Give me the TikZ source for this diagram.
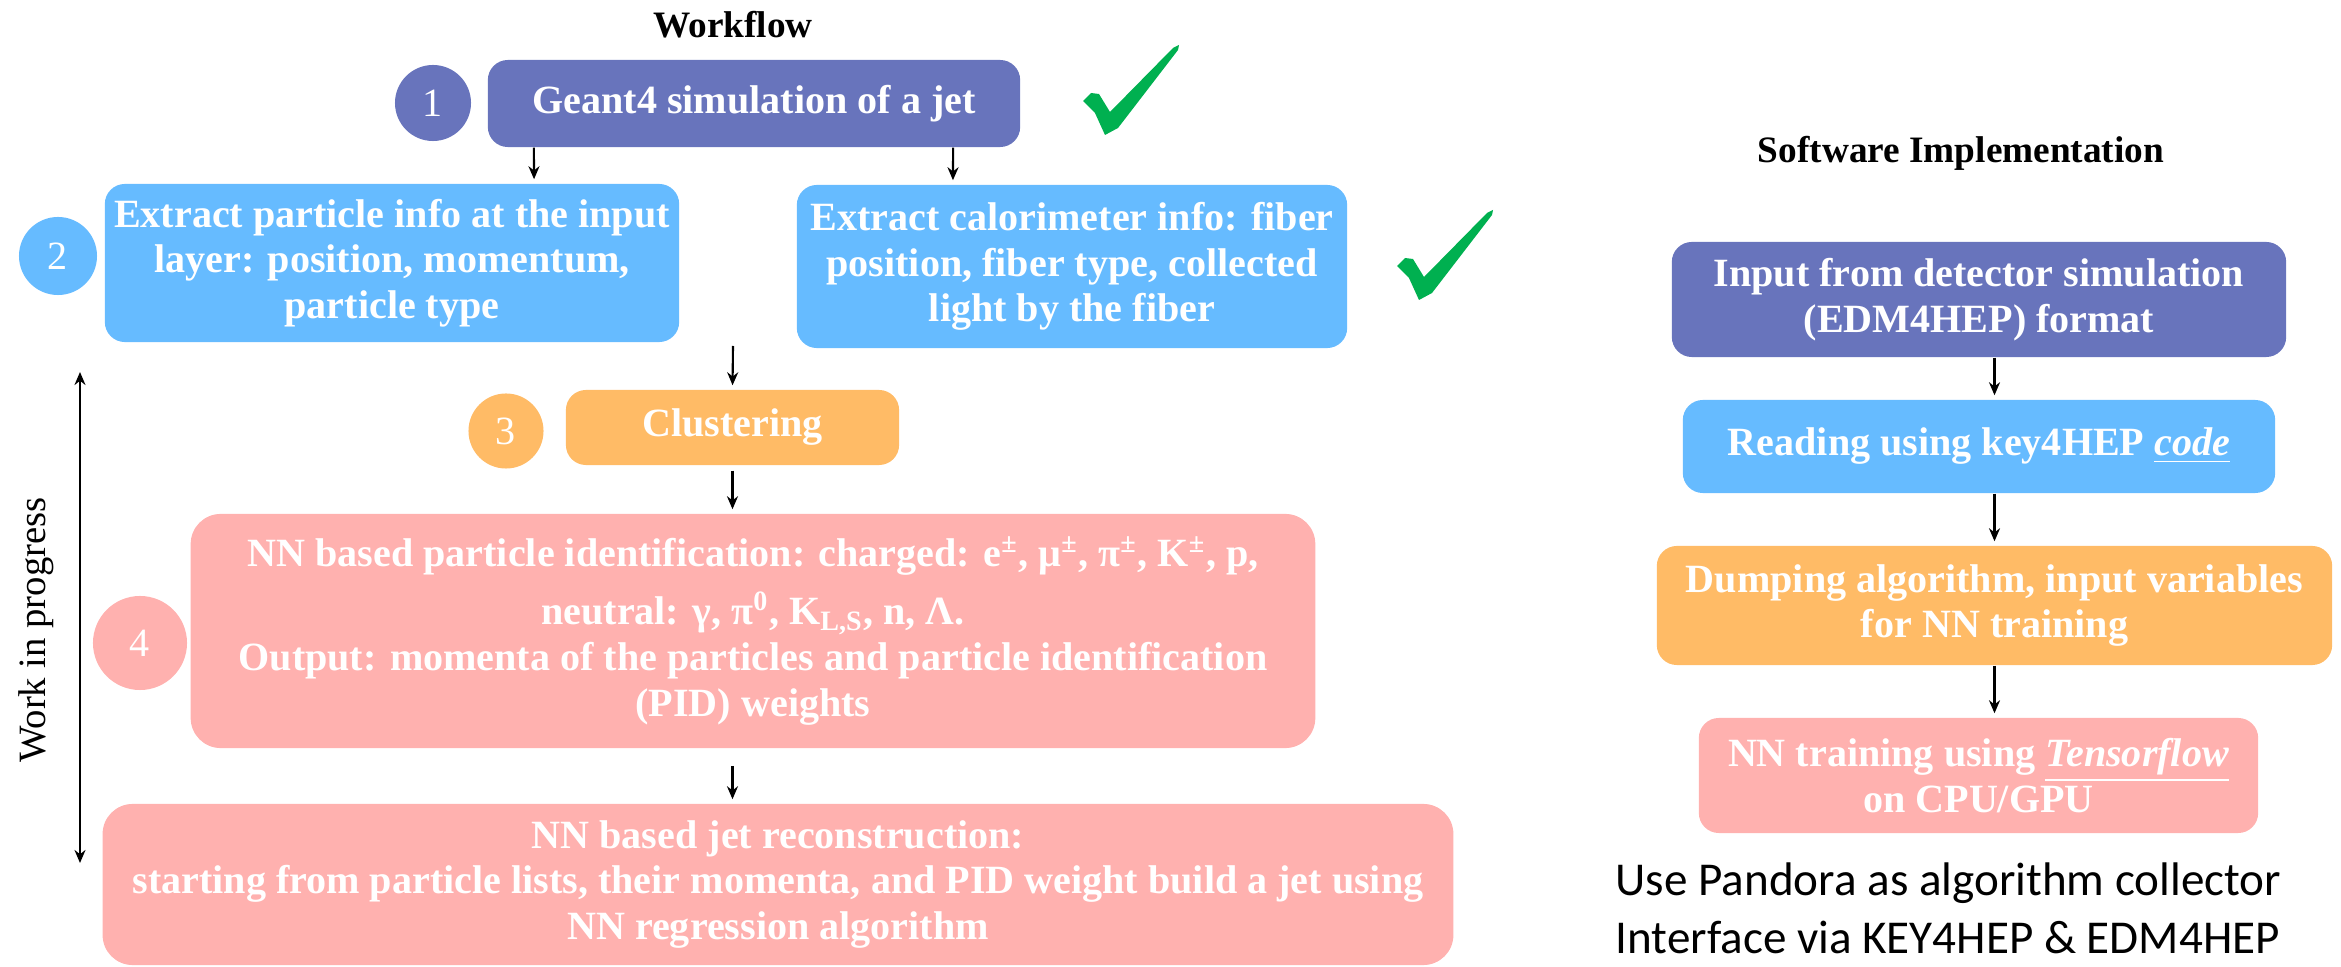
\documentclass[tikz,border=0pt]{standalone}
\usepackage{fontspec}
\setmainfont{Liberation Serif}
\newfontfamily\calibrifont{Carlito}
\usetikzlibrary{arrows.meta, positioning, calc}
\definecolor{geantblue}{HTML}{6874BC}
\definecolor{lightblue}{HTML}{66BBFF}
\definecolor{clusterorange}{HTML}{FFBB66}
\definecolor{nnpink}{HTML}{FFB1AF}
\definecolor{tickgreen}{HTML}{00B050}

\begin{document}
\begin{tikzpicture}[x=0.01cm, y=-0.01cm,
    box/.style={rectangle, rounded corners=2mm, inner sep=0pt, align=center, text=white,
        font=\fontsize{11.4}{13}\selectfont\bfseries},
    bigbox/.style={box, rounded corners=3mm},
    num/.style={circle, inner sep=0pt, minimum size=7.6mm, text=white,
        font=\fontsize{11.4}{13}\selectfont},
    arr/.style={-{Stealth[length=1.3mm, width=1.1mm]}, line width=0.6pt, shorten >=0.4mm},
    headline/.style={font=\fontsize{10.6}{12}\selectfont\bfseries},
    greentick/.pic={\fill[tickgreen] (0,56) -- (8,48) -- (16,49) -- (27,67) -- (90,3) -- (96,0)
        -- (95,5) -- (35,83) -- (22,90) -- (12,68) -- (4,60) -- cycle;}
]
\useasboundingbox (0,0) rectangle (2341,967);

% Workflow
\node[headline] (wftitle) at (733,25) {Workflow};

% step 1
\node[box, fill=geantblue, minimum width=53.2mm, minimum height=8.7mm] (geant) at (754,103.5) {Geant4 simulation of a jet};
\node[num, fill=geantblue] (n1) at (433,103) {1};
\pic at (1083,45) {greentick};

% step 2
\node[box, fill=lightblue, minimum width=57.4mm, minimum height=15.8mm] (partinfo) at (392,263)
    {Extract particle info at the input\\layer: position, momentum,\\particle type};
\node[num, fill=lightblue, minimum size=7.8mm] (n2) at (58,256) {2};
\node[box, fill=lightblue, minimum width=55mm, minimum height=16.3mm] (calinfo) at (1072,266.5)
    {Extract calorimeter info: fiber\\position, fiber type, collected\\light by the fiber};
\pic at (1397,210) {greentick};
\draw[arr] ([xshift=-22mm]geant.south) -- ([xshift=14.2mm]partinfo.north);
\draw[arr] ([xshift=19.9mm]geant.south) -- ([xshift=-11.9mm]calinfo.north);

% step 3
\node[box, fill=clusterorange, minimum width=33.3mm, minimum height=7.5mm] (clust) at (732.5,427.5) {Clustering};
\node[num, fill=clusterorange, minimum size=7.5mm] (n3) at (506,431) {3};
\coordinate (merge) at (733,346);
\draw[arr] (merge) -- (clust.north);

% step 4
\node[bigbox, fill=nnpink, minimum width=112.4mm, minimum height=23.4mm] (pid) at (753,631)
    {NN based particle identification: charged: e\textsuperscript{±}, μ\textsuperscript{±}, π\textsuperscript{±}, K\textsuperscript{±}, p,\\[1.2mm]
     neutral: γ, π\textsuperscript{0}, K\textsubscript{L,S}, n, Λ.\\
     Output: momenta of the particles and particle identification\\(PID) weights};
\node[num, fill=nnpink, minimum size=9.4mm] (n4) at (140,643) {4};
\draw[arr, shorten <=0.5mm] (clust.south) -- (clust.south |- pid.north);

% jet reconstruction
\node[bigbox, fill=nnpink, minimum width=135mm, minimum height=16.1mm] (jet) at (778,884.5)
    {NN based jet reconstruction:\\starting from particle lists, their momenta, and PID weight build a jet using\\NN regression algorithm};
\draw[arr, shorten <=1.7mm] (clust.south |- pid.south) -- (clust.south |- jet.north);

% work in progress
\coordinate (wiptop) at (80,372);
\coordinate (wipbot) at (80,863);
\draw[{Stealth[length=1.3mm, width=1.1mm]}-{Stealth[length=1.3mm, width=1.1mm]}, line width=0.6pt] (wiptop) -- (wipbot);
\node[rotate=90, font=\fontsize{11}{13}\selectfont] (wip) at (36,630) {Work in progress};

% Software Implementation
\node[headline] (swtitle) at (1961,153) {Software Implementation};
\node[box, fill=geantblue, minimum width=61.4mm, minimum height=11.5mm] (input) at (1979,299.5)
    {Input from detector simulation\\(EDM4HEP) format};
\node[box, fill=lightblue, minimum width=59.2mm, minimum height=9.3mm] (reading) at (1979,446.5)
    {Reading using key4HEP \underline{\textit{code}}};
\node[box, fill=clusterorange, minimum width=67.5mm, minimum height=11.9mm] (dump) at (1994.5,605.5)
    {Dumping algorithm, input variables\\for NN training};
\node[box, fill=nnpink, minimum width=55.9mm, minimum height=11.5mm] (train) at (1978.5,775.5)
    {NN training using \underline{\textit{Tensorflow}}\\on CPU/GPU};
\draw[arr] (input.south -| dump.center) -- (reading.north -| dump.center);
\draw[arr] (reading.south -| dump.center) -- (dump.north);
\draw[arr] (dump.south) -- (train.north -| dump.center);

\node[anchor=north west, align=left, inner sep=0pt, font=\calibrifont\fontsize{13.4}{16.5}\selectfont] (pandora) at (1615,862)
    {Use Pandora as algorithm collector\\Interface via KEY4HEP \& EDM4HEP};

\end{tikzpicture}
\end{document}
